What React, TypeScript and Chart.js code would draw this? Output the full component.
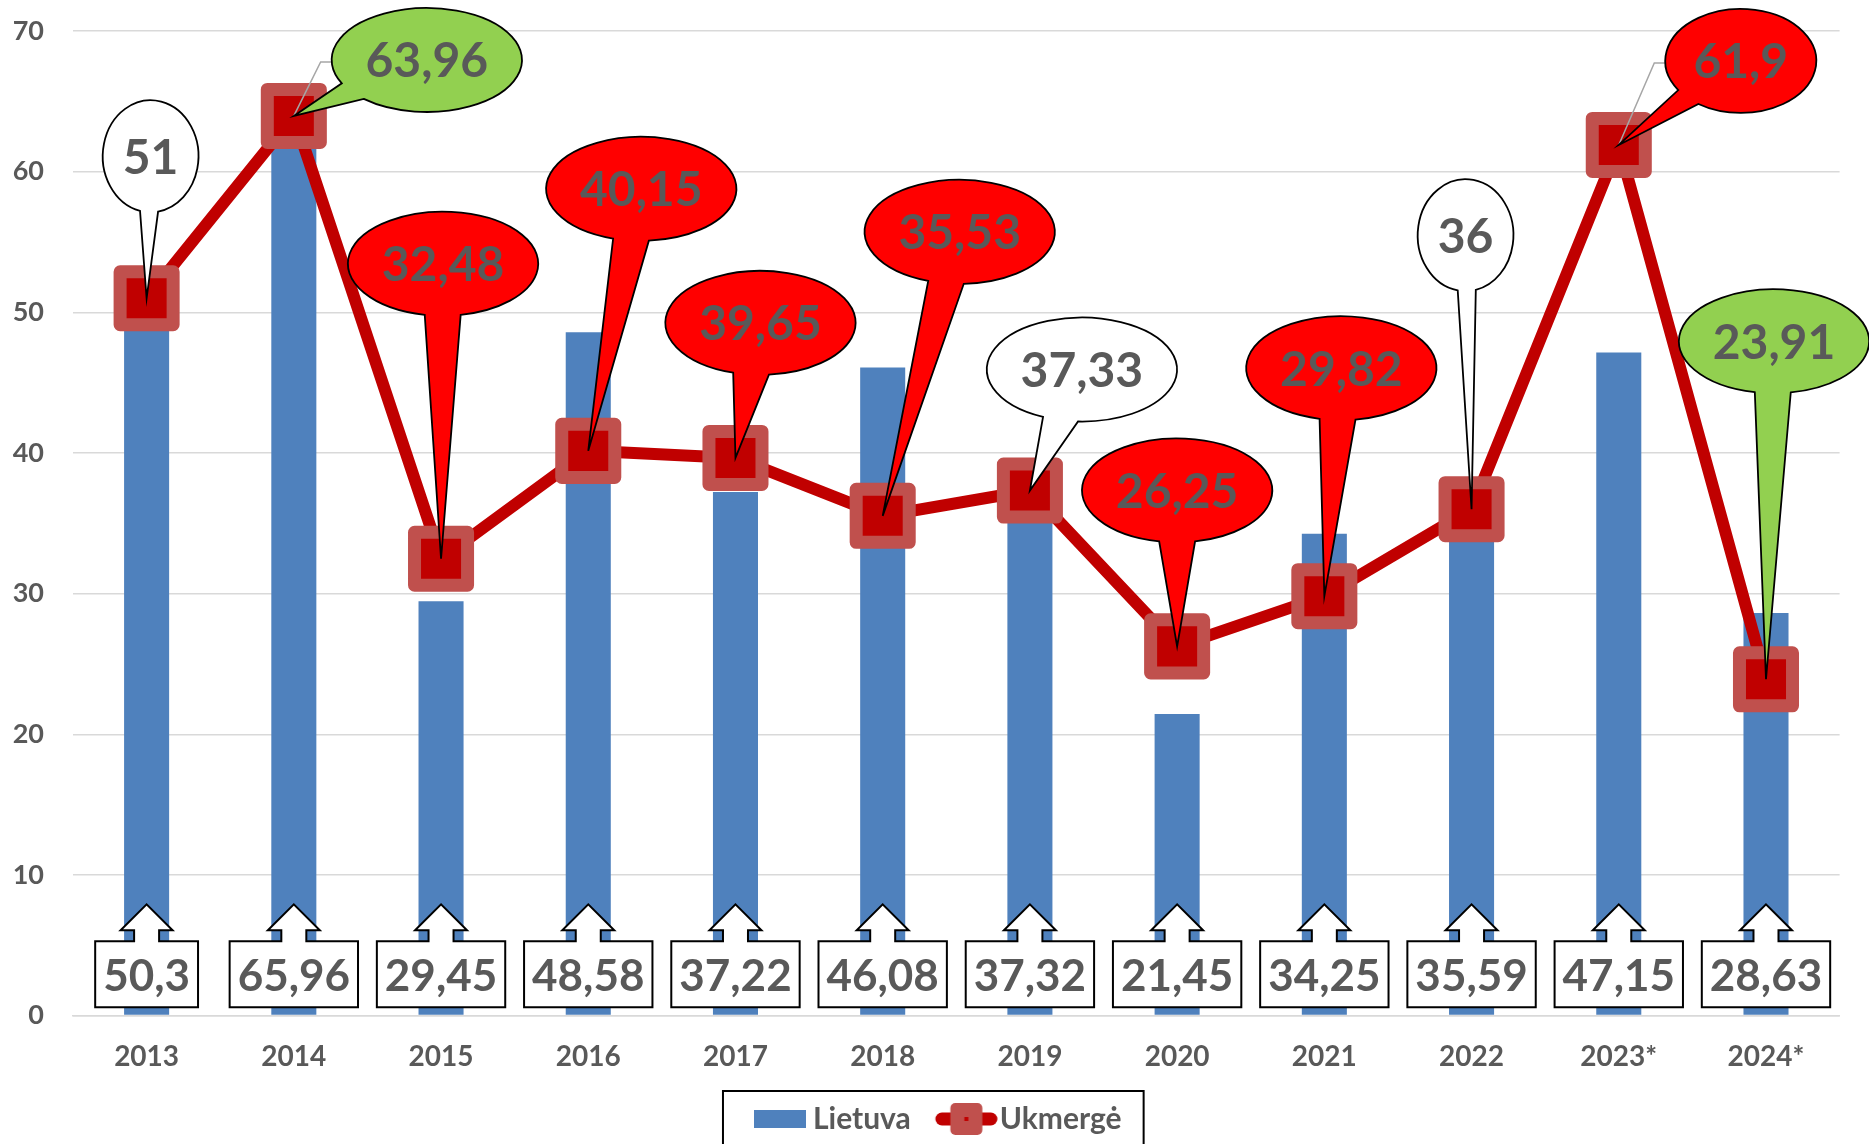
import React, { useEffect, useRef } from 'react';
import { Chart, registerables } from 'chart.js';

Chart.register(...registerables);

// ---- data ----
const categories = ['2013', '2014', '2015', '2016', '2017', '2018', '2019', '2020', '2021', '2022', '2023*', '2024*'];
const lietuva = [50.3, 65.96, 29.45, 48.58, 37.22, 46.08, 37.32, 21.45, 34.25, 35.59, 47.15, 28.63];
const ukmerge = [51, 63.96, 32.48, 40.15, 39.65, 35.53, 37.33, 26.25, 29.82, 36, 61.9, 23.91];
const seriesNames = ['Lietuva', 'Ukmergė'];
const yMin = 0;
const yMax = 70;
const yStep = 10;

// ---- callout styling (per label) ----
const calloutFills = ['#FFFFFF', '#92D050', '#FF0000', '#FF0000', '#FF0000', '#FF0000', '#FFFFFF', '#FF0000', '#FF0000', '#FFFFFF', '#FF0000', '#92D050'];
const calloutOffsets: [number, number][] = [
  [4, -142], [133, -56], [2, -295], [53, -262], [25, -135], [77, -284],
  [52, -121], [0, -156], [17, -228], [-6, -274], [122, -84], [8, -338],
];
const calloutLeaders = [false, true, false, false, false, false, false, false, false, false, true, false];

const FONT = 'Lato, "Open Sans", sans-serif';
const TEXT_GRAY = '#595959';
const BAR_BLUE = '#4F81BD';
const LINE_RED = '#C00000';
const MARKER_BORDER = '#C0504D';

const fmt = (v: number) => String(v).replace('.', ',');

const calloutPlugin = {
  id: 'callouts',
  afterLayout(chart: any) {
    const lg = chart.legend;
    if (lg) {
      lg.left += 8;
      lg.right += 8;
    }
  },
  beforeDatasetDraw(chart: any, args: any) {
    if (args.meta.type === 'line') chart.ctx.lineJoin = 'round';
  },
  afterDatasetDraw(chart: any) {
    chart.ctx.lineJoin = 'miter';
  },
  afterDatasetsDraw(chart: any) {
    const ctx = chart.ctx as CanvasRenderingContext2D;
    // bar labels: up-arrow boxes at the base
    const barMeta = chart.getDatasetMeta(0);
    ctx.save();
    ctx.font = `bold 44px ${FONT}`;
    ctx.textAlign = 'center';
    ctx.textBaseline = 'middle';
    ctx.lineJoin = 'miter';
    barMeta.data.forEach((el: any, i: number) => {
      const { x, base } = el.getProps(['x', 'base'], true);
      const txt = fmt(lietuva[i]);
      const tw = ctx.measureText(txt).width;
      const w = tw + 16;
      const h = 66;
      const bottom = base - 7.5;
      const top = bottom - h;
      const sw = 12.5, hw = 26, stemH = 11, headH = 26;
      ctx.beginPath();
      ctx.moveTo(x - w / 2, bottom);
      ctx.lineTo(x - w / 2, top);
      ctx.lineTo(x - sw, top);
      ctx.lineTo(x - sw, top - stemH);
      ctx.lineTo(x - hw, top - stemH);
      ctx.lineTo(x, top - stemH - headH);
      ctx.lineTo(x + hw, top - stemH);
      ctx.lineTo(x + sw, top - stemH);
      ctx.lineTo(x + sw, top);
      ctx.lineTo(x + w / 2, top);
      ctx.lineTo(x + w / 2, bottom);
      ctx.closePath();
      ctx.fillStyle = '#FFFFFF';
      ctx.fill();
      ctx.strokeStyle = '#000000';
      ctx.lineWidth = 2;
      ctx.stroke();
      ctx.fillStyle = TEXT_GRAY;
      ctx.fillText(txt, x, (top + bottom) / 2 + 2);
    });

    // line labels: ellipse callouts
    const lineMeta = chart.getDatasetMeta(1);
    ctx.font = `bold 48px ${FONT}`;
    lineMeta.data.forEach((el: any, i: number) => {
      const { x, y } = el.getProps(['x', 'y'], true);
      const txt = fmt(ukmerge[i]);
      const tw = ctx.measureText(txt).width;
      const rx = (tw / 2 + 6) * Math.SQRT2;
      const ry = rx < 70 ? 56 : 52;
      const cx = x + calloutOffsets[i][0];
      const cy = y + calloutOffsets[i][1];
      if (calloutLeaders[i]) {
        ctx.beginPath();
        ctx.moveTo(x, y);
        ctx.lineTo(cx - rx - 11, cy + 2);
        ctx.lineTo(cx - rx, cy + 2);
        ctx.strokeStyle = '#A6A6A6';
        ctx.lineWidth = 1.5;
        ctx.stroke();
      }
      const theta = Math.atan2((y - cy) / ry, (x - cx) / rx);
      const d = 0.19;
      ctx.beginPath();
      ctx.moveTo(x, y);
      ctx.ellipse(cx, cy, rx, ry, 0, theta + d, theta - d + Math.PI * 2, false);
      ctx.closePath();
      ctx.fillStyle = calloutFills[i];
      ctx.fill();
      ctx.strokeStyle = '#000000';
      ctx.lineWidth = 1.8;
      ctx.stroke();
      ctx.fillStyle = TEXT_GRAY;
      ctx.fillText(txt, cx, cy + 2);
    });
    ctx.restore();
  },
  afterDraw(chart: any) {
    const lg = chart.legend;
    if (!lg || !lg.legendHitBoxes || !lg.legendHitBoxes.length) return;
    const boxes = lg.legendHitBoxes;
    const first = boxes[0];
    const last = boxes[boxes.length - 1];
    const left = first.left - 11;
    const right = last.left + last.width + 22;
    const top = first.top - 13;
    const ctx = chart.ctx as CanvasRenderingContext2D;
    ctx.save();
    ctx.strokeStyle = '#000000';
    ctx.lineWidth = 2;
    ctx.strokeRect(left, top, right - left, 80);
    ctx.restore();
  },
};

function makeBarSymbol(): HTMLCanvasElement {
  const c = document.createElement('canvas');
  c.width = 80;
  c.height = 20;
  const g = c.getContext('2d')!;
  g.fillStyle = BAR_BLUE;
  g.fillRect(28, 1, 52, 18);
  return c;
}

function makeLineSymbol(): HTMLCanvasElement {
  const c = document.createElement('canvas');
  c.width = 90;
  c.height = 34;
  const g = c.getContext('2d')!;
  g.strokeStyle = LINE_RED;
  g.lineWidth = 13;
  g.lineCap = 'round';
  g.beginPath();
  g.moveTo(34, 17);
  g.lineTo(83, 17);
  g.stroke();
  const mx = 58.5;
  g.fillStyle = MARKER_BORDER;
  g.beginPath();
  const s = 32, r = 5;
  const l = mx - s / 2, t = 1;
  g.moveTo(l + r, t);
  g.arcTo(l + s, t, l + s, t + s, r);
  g.arcTo(l + s, t + s, l, t + s, r);
  g.arcTo(l, t + s, l, t, r);
  g.arcTo(l, t, l + s, t, r);
  g.closePath();
  g.fill();
  g.fillStyle = LINE_RED;
  g.fillRect(mx - 2, 15, 4, 4);
  return c;
}

export default function App() {
  const ref = useRef<HTMLCanvasElement | null>(null);

  useEffect(() => {
    document.body.style.margin = '0';
    const canvas = ref.current;
    if (!canvas) return;
    const barSym = makeBarSymbol();
    const lineSym = makeLineSymbol();

    const chart = new Chart(canvas, {
      type: 'bar',
      data: {
        labels: categories,
        datasets: [
          {
            type: 'bar',
            label: seriesNames[0],
            data: lietuva,
            backgroundColor: BAR_BLUE,
            borderWidth: 0,
            barPercentage: 0.306,
            categoryPercentage: 1,
            order: 2,
          },
          {
            type: 'line',
            label: seriesNames[1],
            data: ukmerge,
            borderColor: LINE_RED,
            borderWidth: 12,
            borderJoinStyle: 'round',
            tension: 0,
            pointStyle: 'rect',
            pointRadius: 37.5,
            pointBorderWidth: 13,
            pointBackgroundColor: LINE_RED,
            pointBorderColor: MARKER_BORDER,
            clip: false,
            order: 1,
          } as any,
        ],
      },
      options: {
        responsive: false,
        animation: false,
        events: [],
        layout: { autoPadding: false, padding: { top: 31, right: 29.4, bottom: 0, left: 0 } },
        scales: {
          x: {
            offset: true,
            grid: { display: false, drawTicks: false },
            border: { display: true, color: '#D9D9D9', width: 1.5 },
            ticks: {
              color: TEXT_GRAY,
              font: { family: FONT, size: 28, weight: 'bold' },
              padding: 25,
              maxRotation: 0,
              autoSkip: false,
            },
            afterFit: (scale: any) => { scale.height = 78.4; },
          },
          y: {
            min: yMin,
            max: yMax,
            ticks: {
              stepSize: yStep,
              color: TEXT_GRAY,
              font: { family: FONT, size: 27, weight: 'bold' },
              padding: 0,
            },
            grid: { color: '#D9D9D9', lineWidth: 1.5, drawTicks: true, tickLength: 29, tickColor: 'rgba(0,0,0,0)' },
            border: { display: false },
            afterFit: (scale: any) => { scale.width = 73; },
          },
        },
        plugins: {
          tooltip: { enabled: false },
          legend: {
            position: 'bottom',
            labels: {
              usePointStyle: true,
              pointStyleWidth: 64,
              padding: 10,
              color: TEXT_GRAY,
              font: { family: FONT, size: 30, weight: 'bold' },
              generateLabels: () => [
                { text: seriesNames[0], pointStyle: barSym, fillStyle: BAR_BLUE, strokeStyle: BAR_BLUE, lineWidth: 0, hidden: false, datasetIndex: 0, fontColor: TEXT_GRAY } as any,
                { text: seriesNames[1], pointStyle: lineSym, fillStyle: LINE_RED, strokeStyle: LINE_RED, lineWidth: 0, hidden: false, datasetIndex: 1, fontColor: TEXT_GRAY } as any,
              ],
            },
          },
        },
      } as any,
      plugins: [calloutPlugin as any],
    });
    return () => chart.destroy();
  }, []);

  return (
    <div style={{ width: 1869, height: 1144 }}>
      <canvas ref={ref} width={1869} height={1144} style={{ display: 'block' }} />
    </div>
  );
}
